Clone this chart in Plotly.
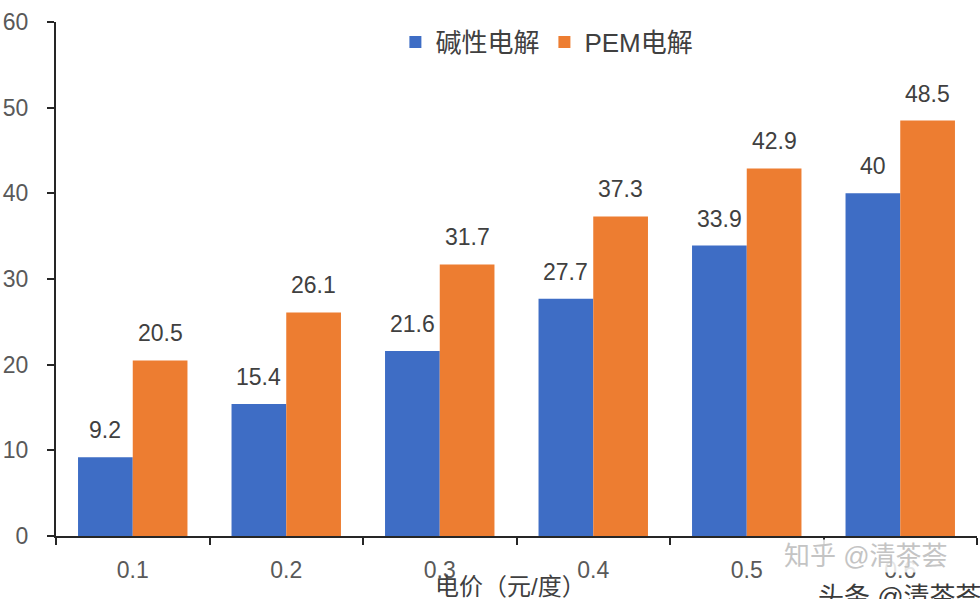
import plotly.graph_objects as go

categories = ["0.1", "0.2", "0.3", "0.4", "0.5", "0.6"]
alkaline = [9.2, 15.4, 21.6, 27.7, 33.9, 40]
pem = [20.5, 26.1, 31.7, 37.3, 42.9, 48.5]
series_names = ["碱性电解", "PEM电解"]
y_ticks = [0, 10, 20, 30, 40, 50, 60]
x_title = "电价（元/度）"
watermark = "知乎 @清茶荟"
watermark2 = "头条 @清茶荟"

BLUE = "#3E6DC5"
ORANGE = "#ED7D31"
FONT = "Liberation Sans, Arial, Noto Sans CJK SC, sans-serif"

fig = go.Figure()
fig.add_trace(go.Bar(x=categories, y=alkaline, name=series_names[0], marker_color=BLUE, marker_line_width=0))
fig.add_trace(go.Bar(x=categories, y=pem, name=series_names[1], marker_color=ORANGE, marker_line_width=0))

annotations = []
bar_half = 27.4
for vals, shift in ((alkaline, -bar_half), (pem, bar_half)):
    for i, v in enumerate(vals):
        annotations.append(dict(x=i, y=v, xref="x", yref="y", text=f"{v:g}", showarrow=False,
                                xshift=shift, yshift=12, yanchor="bottom", xanchor="center",
                                font=dict(size=23, color="#404040", family=FONT)))

annotations.append(dict(x=(510 - 56) / 921, y=-0.098, xref="paper", yref="paper", text=x_title,
                        showarrow=False, xanchor="center", yanchor="middle",
                        font=dict(size=24, color="#404040", family=FONT)))

annotations.append(dict(x=(900 - 56) / 921, y=(536 - 597) / 514, xref="paper", yref="paper", text=watermark2,
                        showarrow=False, xanchor="center", yanchor="middle",
                        font=dict(size=26, color="#3a3a3a", family=FONT),
                        bgcolor="rgba(255,255,255,0.9)"))

annotations.append(dict(x=(866 - 56) / 921, y=(536 - 556) / 514, xref="paper", yref="paper", text=watermark,
                        showarrow=False, xanchor="center", yanchor="middle",
                        font=dict(size=26, color="#c4c4c4", family=FONT),
                        bgcolor="rgba(255,255,255,0.85)"))

fig.update_layout(
    width=980, height=599,
    margin=dict(l=56, r=3, t=22, b=63),
    paper_bgcolor="white", plot_bgcolor="white",
    barmode="group", bargap=0.287, bargroupgap=0,
    font=dict(family=FONT, size=22, color="#595959"),
    legend=dict(orientation="h", x=0.533, xanchor="center", y=0.961, yanchor="middle",
                font=dict(size=26, color="#404040", family=FONT), itemwidth=30,
                bgcolor="rgba(0,0,0,0)"),
    annotations=annotations,
    xaxis=dict(type="category", showline=True, linecolor="#262626", linewidth=2,
               ticks="outside", tickson="boundaries", ticklen=7, tickwidth=2, tickcolor="#262626",
               ticklabelstandoff=12, tickfont=dict(size=23, color="#595959"), showgrid=False),
    yaxis=dict(range=[0, 60], tickvals=y_ticks, showline=True, linecolor="#262626", linewidth=2,
               ticks="outside", ticklen=7, tickwidth=2, tickcolor="#262626",
               ticklabelstandoff=14, tickfont=dict(size=23, color="#595959"),
               showgrid=False, zeroline=False),
)

fig.write_html("out.html")
